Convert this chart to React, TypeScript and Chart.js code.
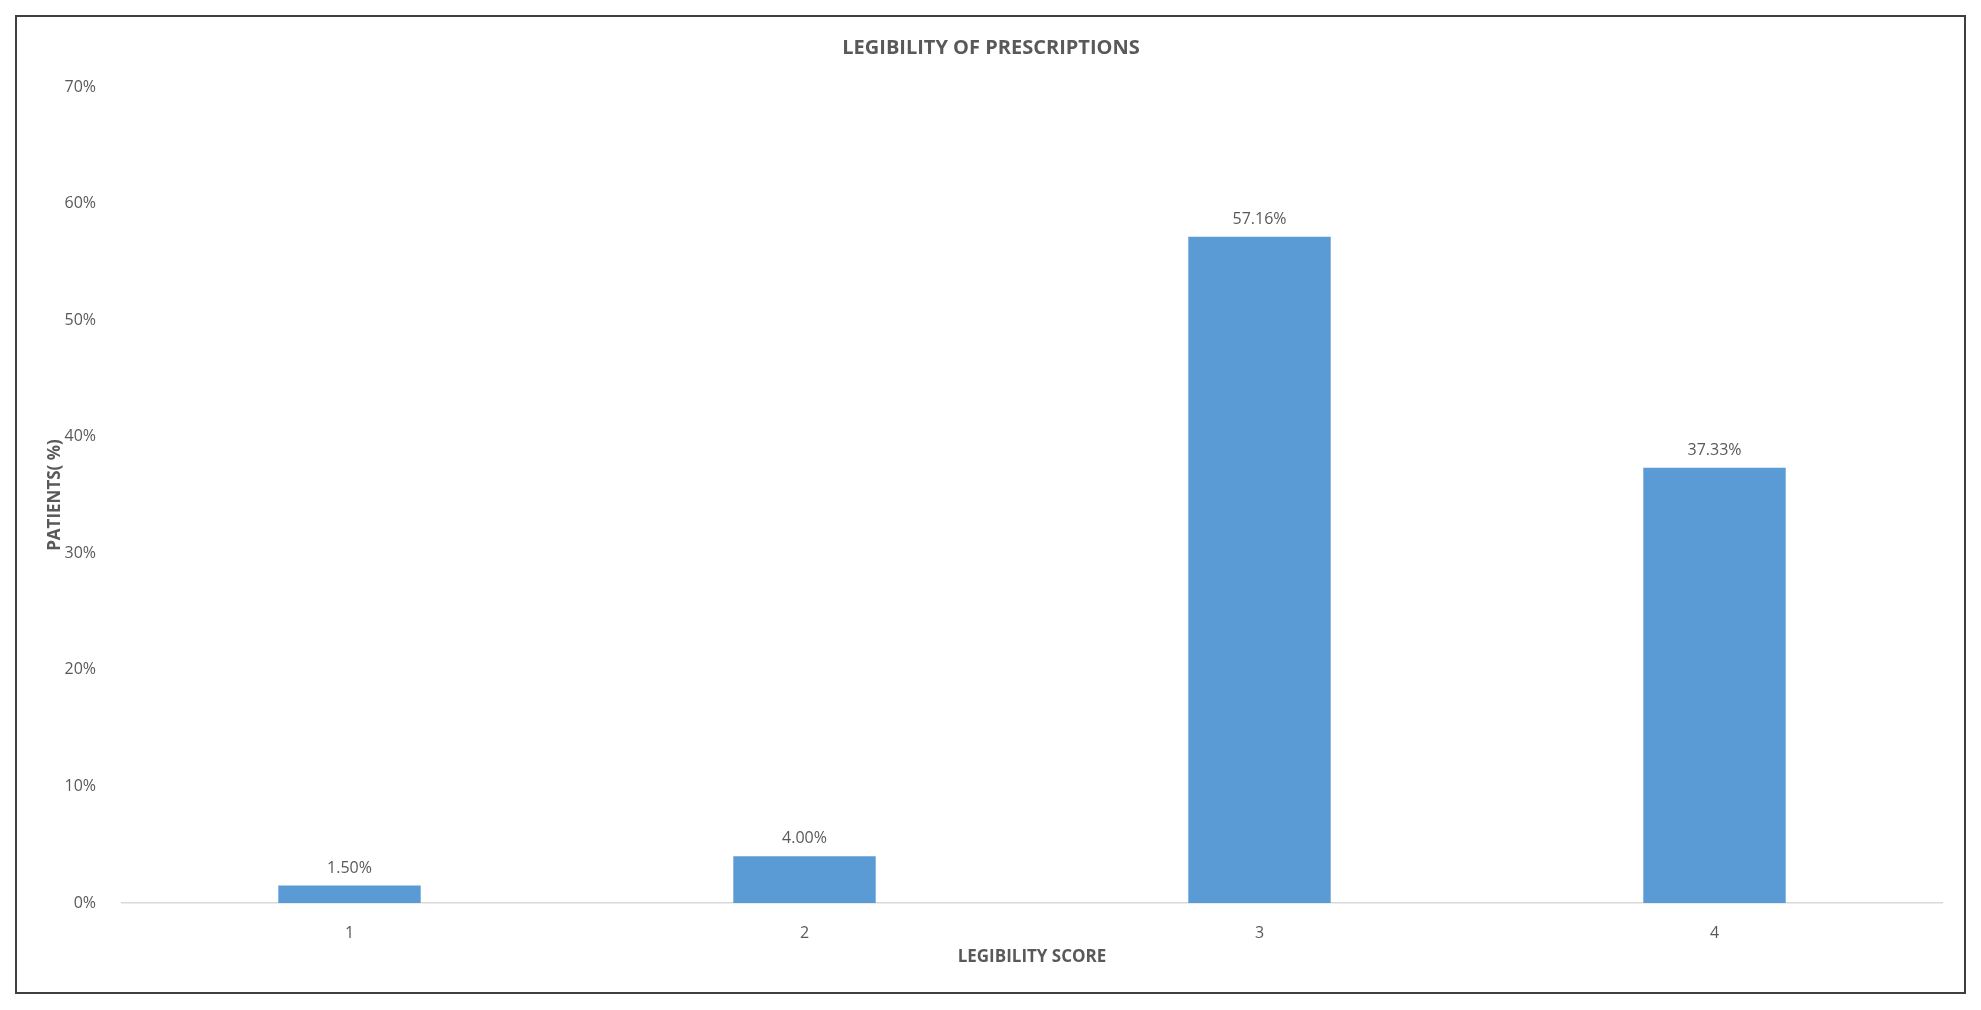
import React, { useRef, useEffect } from "react";
import { Chart, registerables, ChartConfiguration, Plugin } from "chart.js";

Chart.register(...registerables);

const scores = ["1", "2", "3", "4"];
const patientsPct = [1.5, 4.0, 57.16, 37.33];
const yTicks = [0, 10, 20, 30, 40, 50, 60, 70];

const TEXT = "#595959";
const FONT = "'Open Sans', 'Liberation Sans', sans-serif";

const valueLabels: Plugin<"bar"> = {
  id: "valueLabels",
  afterDatasetsDraw(chart) {
    const ctx = chart.ctx;
    const meta = chart.getDatasetMeta(0);
    ctx.save();
    ctx.fillStyle = TEXT;
    ctx.font = `16px ${FONT}`;
    ctx.textAlign = "center";
    ctx.textBaseline = "alphabetic";
    meta.data.forEach((bar, i) => {
      const v = patientsPct[i];
      ctx.fillText(v.toFixed(2) + "%", bar.x, bar.y - 13);
    });
    ctx.restore();
  },
};

const App = () => {
  const canvasRef = useRef<HTMLCanvasElement>(null);
  const chartRef = useRef<Chart<"bar">>();

  useEffect(() => {
    const ctx = canvasRef.current!.getContext("2d");
    if (chartRef.current) chartRef.current.destroy();

    const config: ChartConfiguration<"bar"> = {
      type: "bar",
      data: {
        labels: scores,
        datasets: [
          {
            label: "Patients (%)",
            data: patientsPct,
            backgroundColor: "#5B9BD5",
            categoryPercentage: 1,
            barPercentage: 0.313,
          },
        ],
      },
      options: {
        animation: false,
        responsive: true,
        maintainAspectRatio: false,
        layout: { padding: { left: 40, right: 39, top: 20, bottom: 20 } },
        plugins: {
          legend: { display: false },
          tooltip: { enabled: false },
          title: {
            display: true,
            text: "LEGIBILITY OF PRESCRIPTIONS",
            color: TEXT,
            font: { family: FONT, size: 20, weight: "bold" },
            padding: { top: 16, bottom: 27 },
          },
        },
        scales: {
          x: {
            grid: { display: false },
            border: { display: true, color: "#D9D9D9", width: 1.5 },
            ticks: { color: TEXT, font: { family: FONT, size: 16 }, padding: 13 },
            title: {
              display: true,
              text: "LEGIBILITY SCORE",
              color: TEXT,
              font: { family: FONT, size: 17, weight: "bold" },
              padding: { top: 0, bottom: 23 },
            },
            afterFit: (scale) => {
              scale.height = 87;
            },
          },
          y: {
            min: 0,
            max: 70,
            grid: { display: false },
            border: { display: false },
            afterBuildTicks: (scale) => {
              scale.ticks = yTicks.map((v) => ({ value: v }));
            },
            ticks: {
              color: TEXT,
              font: { family: FONT, size: 16 },
              padding: 18,
              callback: (v) => v + "%",
            },
            title: {
              display: true,
              text: "PATIENTS( %)",
              color: TEXT,
              font: { family: FONT, size: 17, weight: "bold" },
              padding: { top: 5, bottom: 0 },
            },
            afterFit: (scale) => {
              scale.width = 82;
            },
          },
        },
      },
      plugins: [valueLabels],
    };

    if (ctx) chartRef.current = new Chart(ctx, config);
    return () => {
      if (chartRef.current) chartRef.current.destroy();
    };
  }, []);

  return (
    <div
      style={{
        position: "fixed",
        left: 0,
        top: 0,
        width: "1981px",
        height: "1010px",
        background: "#ffffff",
      }}
    >
      <canvas ref={canvasRef} />
      <div
        style={{
          position: "absolute",
          left: "15px",
          top: "15px",
          width: "1951px",
          height: "979px",
          boxSizing: "border-box",
          border: "2px solid #3F3F3F",
          pointerEvents: "none",
        }}
      />
    </div>
  );
};

export default App;
